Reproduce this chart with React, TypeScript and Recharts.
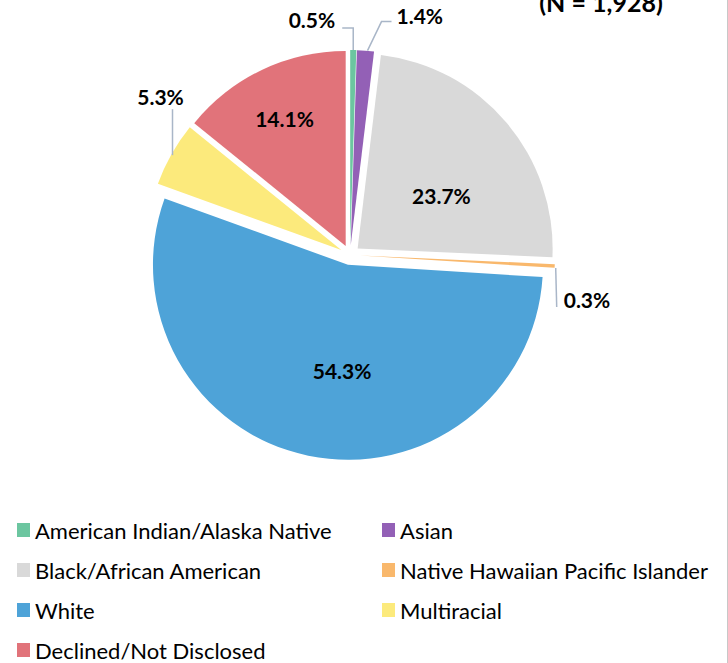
import { PieChart, Pie, Legend } from "recharts";

const categories = [
  "American Indian/Alaska Native",
  "Asian",
  "Black/African American",
  "Native Hawaiian Pacific Islander",
  "White",
  "Multiracial",
  "Declined/Not Disclosed",
];
const percents = [0.5, 1.4, 23.7, 0.3, 54.3, 5.3, 14.1];
const colors = ["#6CC6A0", "#9360B6", "#D9D9D9", "#F9B86C", "#4EA3D8", "#FCEA7C", "#E1737A"];
const title = "(N = 1,928)";

// geometry + label placement (styling, not data)
const CX = 350;
const CY = 255;
const R = 195;
const EXPLODE = 10;
const RAD = Math.PI / 180;
const FONT = "Lato, 'Noto Sans', sans-serif";

type Pt = [number, number];
// inside: nudge from anchor at 0.55R; outside: leader path offsets from slice edge, then text
const labelLayout: Array<
  | { inside: true; dx: number; dy: number }
  | { inside: false; path: Pt[]; anchor: "start" | "middle" | "end"; tx: number; ty: number }
> = [
  { inside: false, path: [[0, 0], [0, -22], [-11, -22]], anchor: "end", tx: -7, ty: 0 },
  { inside: false, path: [[2, 0], [16, -29], [26, -29]], anchor: "start", tx: 5, ty: 2 },
  { inside: true, dx: 2, dy: 16 },
  { inside: false, path: [[1, 2], [2, 41]], anchor: "start", tx: 7, ty: 1 },
  { inside: true, dx: 16, dy: 1 },
  { inside: false, path: [[1, 1], [1, -45]], anchor: "middle", tx: -12, ty: -4 },
  { inside: true, dx: -15, dy: -31 },
];

const total = percents.reduce((a, b) => a + b, 0);
const slices = percents.map((v, i) => {
  const before = percents.slice(0, i).reduce((a, b) => a + b, 0);
  const startAngle = 90 - (before / total) * 360;
  const endAngle = 90 - ((before + v) / total) * 360;
  const mid = (startAngle + endAngle) / 2;
  return {
    name: categories[i],
    value: v,
    color: colors[i],
    startAngle,
    endAngle,
    cx: CX + EXPLODE * Math.cos(mid * RAD),
    cy: CY - EXPLODE * Math.sin(mid * RAD),
  };
});

function makeLabel(i: number) {
  return (props: any) => {
    const { cx, cy, midAngle, outerRadius } = props;
    const text = `${percents[i].toFixed(1)}%`;
    const lay = labelLayout[i];
    const cos = Math.cos(-midAngle * RAD);
    const sin = Math.sin(-midAngle * RAD);
    if (lay.inside) {
      const r = outerRadius * 0.55;
      return (
        <text
          x={cx + r * cos + lay.dx}
          y={cy + r * sin + lay.dy}
          textAnchor="middle"
          dominantBaseline="central"
          fontFamily={FONT}
          fontWeight={700}
          fontSize={21}
          fill="#000"
        >
          {text}
        </text>
      );
    }
    const ex = cx + outerRadius * cos;
    const ey = cy + outerRadius * sin;
    const pts = lay.path.map(([dx, dy]) => [ex + dx, ey + dy]);
    const last = pts[pts.length - 1];
    return (
      <g>
        <polyline
          points={pts.map((p) => p.join(",")).join(" ")}
          fill="none"
          stroke="#A9B6C8"
          strokeWidth={1.5}
        />
        <text
          x={last[0] + lay.tx}
          y={last[1] + lay.ty}
          textAnchor={lay.anchor}
          fontFamily={FONT}
          fontWeight={700}
          fontSize={21}
          fill="#000"
        >
          {text}
        </text>
      </g>
    );
  };
}

const LegendGrid = () => (
  <div
    style={{
      display: "grid",
      gridTemplateColumns: "365px 346px",
      paddingLeft: 17,
      fontFamily: FONT,
      fontSize: 22,
      color: "#000",
    }}
  >
    {categories.map((c, i) => (
      <div key={c} style={{ display: "flex", alignItems: "center", height: 40, whiteSpace: "nowrap" }}>
        <span
          style={{
            width: 13,
            height: 14,
            marginRight: 5,
            backgroundColor: colors[i],
            display: "inline-block",
            flexShrink: 0,
          }}
        />
        <span>{c}</span>
      </div>
    ))}
  </div>
);

export default function App() {
  return (
    <div
      style={{
        position: "absolute",
        left: 0,
        top: 0,
        width: 728,
        height: 663,
        background: "#fff",
        borderRight: "1px solid #C8C8C8",
        boxSizing: "border-box",
        overflow: "hidden",
      }}
    >
      <PieChart width={728} height={663} margin={{ top: 0, right: 0, bottom: 0, left: 0 }}>
        <text
          x={601}
          y={12}
          textAnchor="middle"
          fontFamily={FONT}
          fontWeight={700}
          fontSize={25}
          fill="#000"
        >
          {title}
        </text>
        {slices.map((s, i) => (
          <Pie
            key={s.name}
            data={[{ name: s.name, value: s.value, fill: s.color }]}
            dataKey="value"
            nameKey="name"
            cx={s.cx}
            cy={s.cy}
            outerRadius={R}
            startAngle={s.startAngle}
            endAngle={s.endAngle}
            fill={s.color}
            stroke="none"
            labelLine={false}
            label={makeLabel(i)}
            isAnimationActive={false}
          />
        ))}
        <Legend
          content={() => <LegendGrid />}
          wrapperStyle={{ position: "absolute", top: 510, left: 0, width: 728 }}
        />
      </PieChart>
    </div>
  );
}
